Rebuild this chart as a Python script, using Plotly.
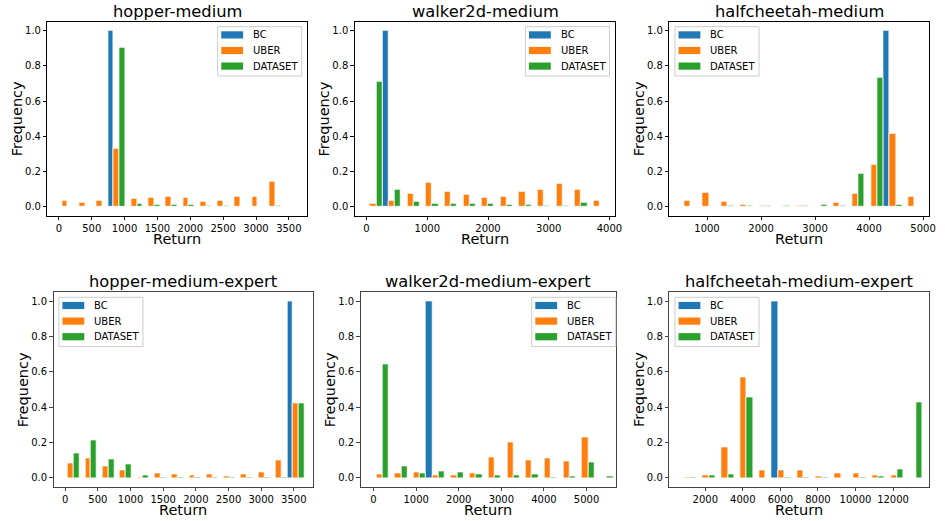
import plotly.graph_objects as go

W, H = 945, 521
SERIES = ["BC", "UBER", "DATASET"]
COLORS = {"BC": "#1f77b4", "UBER": "#ff7f0e", "DATASET": "#2ca02c"}

# ---------------- data (bin centres and normalised frequencies) ----------------
hm_bins = [91, 354, 617, 880, 1143, 1406, 1669, 1932, 2195, 2458, 2721, 2984, 3247]
hm_bc = [0, 0, 0, 1.0, 0, 0, 0, 0, 0, 0, 0, 0, 0]
hm_uber = [0.036, 0.025, 0.036, 0.33, 0.045, 0.053, 0.06, 0.053, 0.03, 0.036, 0.06, 0.06, 0.145]
hm_data = [0.003, 0, 0, 0.905, 0.02, 0.012, 0.012, 0.012, 0.008, 0.005, 0.002, 0.001, 0.004]

wm_bins = [109, 416, 722, 1029, 1335, 1642, 1948, 2255, 2561, 2868, 3174, 3481, 3787]
wm_bc = [0, 1.0, 0, 0, 0, 0, 0, 0, 0, 0, 0, 0, 0]
wm_uber = [0.018, 0.033, 0.075, 0.135, 0.085, 0.068, 0.052, 0.06, 0.085, 0.1, 0.132, 0.1, 0.035]
wm_data = [0.71, 0.098, 0.03, 0.017, 0.02, 0.02, 0.017, 0.013, 0.012, 0.008, 0.008, 0.022, 0.002]

cm_bins = [633, 979, 1325, 1671, 2017, 2363, 2709, 3055, 3401, 3747, 4093, 4439, 4785]
cm_bc = [0, 0, 0, 0, 0, 0, 0, 0, 0, 0, 0, 1.0, 0]
cm_uber = [0.035, 0.08, 0.03, 0.013, 0.008, 0.001, 0.007, 0.003, 0.022, 0.072, 0.237, 0.415, 0.06]
cm_data = [0, 0.003, 0.004, 0.005, 0.008, 0.006, 0.008, 0.01, 0.008, 0.19, 0.73, 0.01, 0]

hme_bins = [86, 351, 616, 881, 1146, 1411, 1676, 1941, 2206, 2471, 2736, 3001, 3266, 3531]
hme_bc = [0, 0, 0, 0, 0, 0, 0, 0, 0, 0, 0, 0, 0, 1.0]
hme_uber = [0.085, 0.108, 0.068, 0.04, 0.005, 0.025, 0.022, 0.015, 0.022, 0.01, 0.022, 0.032, 0.102, 0.423]
hme_data = [0.14, 0.215, 0.103, 0.076, 0.012, 0.005, 0.001, 0.002, 0.002, 0.002, 0.001, 0.001, 0.002, 0.423]

wme_bins = [136, 575, 1014, 1453, 1892, 2331, 2770, 3209, 3648, 4087, 4526, 4965, 5404]
wme_bc = [0, 0, 0, 1.0, 0, 0, 0, 0, 0, 0, 0, 0, 0]
wme_uber = [0.022, 0.027, 0.033, 0.015, 0.015, 0.027, 0.117, 0.2, 0.1, 0.108, 0.095, 0.23, 0]
wme_data = [0.64, 0.065, 0.027, 0.035, 0.03, 0.022, 0.015, 0.017, 0.022, 0.005, 0.01, 0.09, 0.007]

cme_bins = [1030, 2033, 3036, 4039, 5042, 6045, 7048, 8051, 9054, 10057, 11060, 12063, 13066]
cme_bc = [0, 0, 0, 0, 0, 1.0, 0, 0, 0, 0, 0, 0, 0]
cme_uber = [0.005, 0.013, 0.175, 0.57, 0.045, 0.04, 0.04, 0.01, 0.027, 0.027, 0.015, 0.017, 0]
cme_data = [0.005, 0.013, 0.022, 0.455, 0, 0.001, 0.002, 0.001, 0, 0.005, 0.008, 0.05, 0.43]

titles = ["hopper-medium", "walker2d-medium", "halfcheetah-medium",
          "hopper-medium-expert", "walker2d-medium-expert", "halfcheetah-medium-expert"]
xticks = [
    [0, 500, 1000, 1500, 2000, 2500, 3000, 3500],
    [0, 1000, 2000, 3000, 4000],
    [1000, 2000, 3000, 4000, 5000],
    [0, 500, 1000, 1500, 2000, 2500, 3000, 3500],
    [0, 1000, 2000, 3000, 4000, 5000],
    [2000, 4000, 6000, 8000, 10000, 12000],
]
yticks = [0, 0.2, 0.4, 0.6, 0.8, 1.0]

# ---------------- layout (pixel boxes) ----------------
panels = [
    dict(bins=hm_bins, vals=[hm_bc, hm_uber, hm_data], xr=[-175, 3776],
         box=(47.7, 21.7, 309.3, 215.7), leg=(219.3, 26.7), spine="#000000", sw=0.8),
    dict(bins=wm_bins, vals=[wm_bc, wm_uber, wm_data], xr=[-196, 4098],
         box=(357.3, 21.7, 620.0, 215.7), leg=(529.3, 26.7), spine="#000000", sw=0.8),
    dict(bins=cm_bins, vals=[cm_bc, cm_uber, cm_data], xr=[302, 5117],
         box=(674.3, 21.7, 936.3, 215.7), leg=(680.0, 26.7), spine="#000000", sw=0.8),
    dict(bins=hme_bins, vals=[hme_bc, hme_uber, hme_data], xr=[-178, 3799],
         box=(54.0, 292.3, 315.7, 486.7), leg=(59.3, 297.3), spine="#444444", sw=1.1),
    dict(bins=wme_bins, vals=[wme_bc, wme_uber, wme_data], xr=[-303, 5693],
         box=(363.3, 292.3, 620.7, 486.7), leg=(535.7, 297.3), spine="#444444", sw=1.1),
    dict(bins=cme_bins, vals=[cme_bc, cme_uber, cme_data], xr=[85, 13935],
         box=(674.3, 292.3, 936.3, 486.7), leg=(680.0, 297.3), spine="#444444", sw=1.1),
]


def pxx(x):
    return x / W


def pxy(y):
    return 1 - y / H


FONT = "DejaVu Sans"
fig = go.Figure()
shapes = []
annotations = []
layout_axes = {}

for i, p in enumerate(panels):
    n = i + 1
    xa = "x" if n == 1 else f"x{n}"
    ya = "y" if n == 1 else f"y{n}"
    for name, vals in zip(SERIES, p["vals"]):
        fig.add_trace(go.Bar(
            x=p["bins"], y=vals, name=name, xaxis=xa, yaxis=ya, showlegend=False,
            marker=dict(color=COLORS[name], line=dict(color="white", width=0.8)),
        ))
    l, t, r, b = p["box"]
    axis_common = dict(showline=True, linecolor=p["spine"], linewidth=p["sw"], mirror=True,
                       ticks="outside", ticklen=3.5, tickwidth=0.8, tickcolor=p["spine"],
                       showgrid=False, zeroline=False,
                       tickfont=dict(family=FONT, size=10, color="#000000"))
    layout_axes["xaxis" if n == 1 else f"xaxis{n}"] = dict(
        domain=[pxx(l), pxx(r)], anchor=ya, range=p["xr"], tickmode="array",
        tickvals=xticks[i], ticktext=[str(v) for v in xticks[i]], **axis_common)
    layout_axes["yaxis" if n == 1 else f"yaxis{n}"] = dict(
        domain=[pxy(b), pxy(t)], anchor=xa, range=[-0.05, 1.05], tickmode="array",
        tickvals=yticks, ticktext=[f"{v:.1f}" for v in yticks], **axis_common)

    # title
    annotations.append(dict(text=titles[i], x=pxx((l + r) / 2), y=pxy(t - 10.5),
                            xref="paper", yref="paper", xanchor="center", yanchor="middle",
                            showarrow=False, font=dict(family=FONT, size=16.3, color="#000000")))
    # axis titles
    annotations.append(dict(text="Return", x=pxx((l + r) / 2), y=pxy(b + 23.0),
                            xref="paper", yref="paper", xanchor="center", yanchor="middle",
                            showarrow=False, font=dict(family=FONT, size=14.5, color="#000000")))
    annotations.append(dict(text="Frequency", x=pxx(l - 31), y=pxy((t + b) / 2),
                            xref="paper", yref="paper", xanchor="center", yanchor="middle",
                            textangle=-90, showarrow=False,
                            font=dict(family=FONT, size=14.5, color="#000000")))
    # legend
    lx, ly = p["leg"]
    shapes.append(dict(type="rect", xref="paper", yref="paper",
                       x0=pxx(lx), x1=pxx(lx + 84.7), y0=pxy(ly), y1=pxy(ly + 49.3),
                       line=dict(color="#cccccc", width=1), fillcolor="rgba(255,255,255,0.8)"))
    for j, name in enumerate(SERIES):
        ry = ly + [8.2, 23.8, 39.4][j]
        shapes.append(dict(type="rect", xref="paper", yref="paper",
                           x0=pxx(lx + 3.6), x1=pxx(lx + 25.6), y0=pxy(ry - 3.6), y1=pxy(ry + 3.6),
                           line=dict(width=0), fillcolor=COLORS[name]))
        annotations.append(dict(text=name, x=pxx(lx + 33.5), y=pxy(ry), xref="paper", yref="paper",
                                xanchor="left", yanchor="middle", showarrow=False,
                                font=dict(family=FONT, size=10, color="#000000")))

fig.update_layout(
    width=W, height=H, margin=dict(l=0, r=0, t=0, b=0),
    paper_bgcolor="white", plot_bgcolor="white",
    barmode="group", bargap=0.0, bargroupgap=0,
    font=dict(family=FONT, size=10, color="#000000"),
    shapes=shapes, annotations=annotations, showlegend=False,
    hovermode=False,
    **layout_axes,
)

fig.write_html("out.html", config={"displayModeBar": False},
               post_script="document.body.style.margin='0';document.body.style.overflow='hidden';")
